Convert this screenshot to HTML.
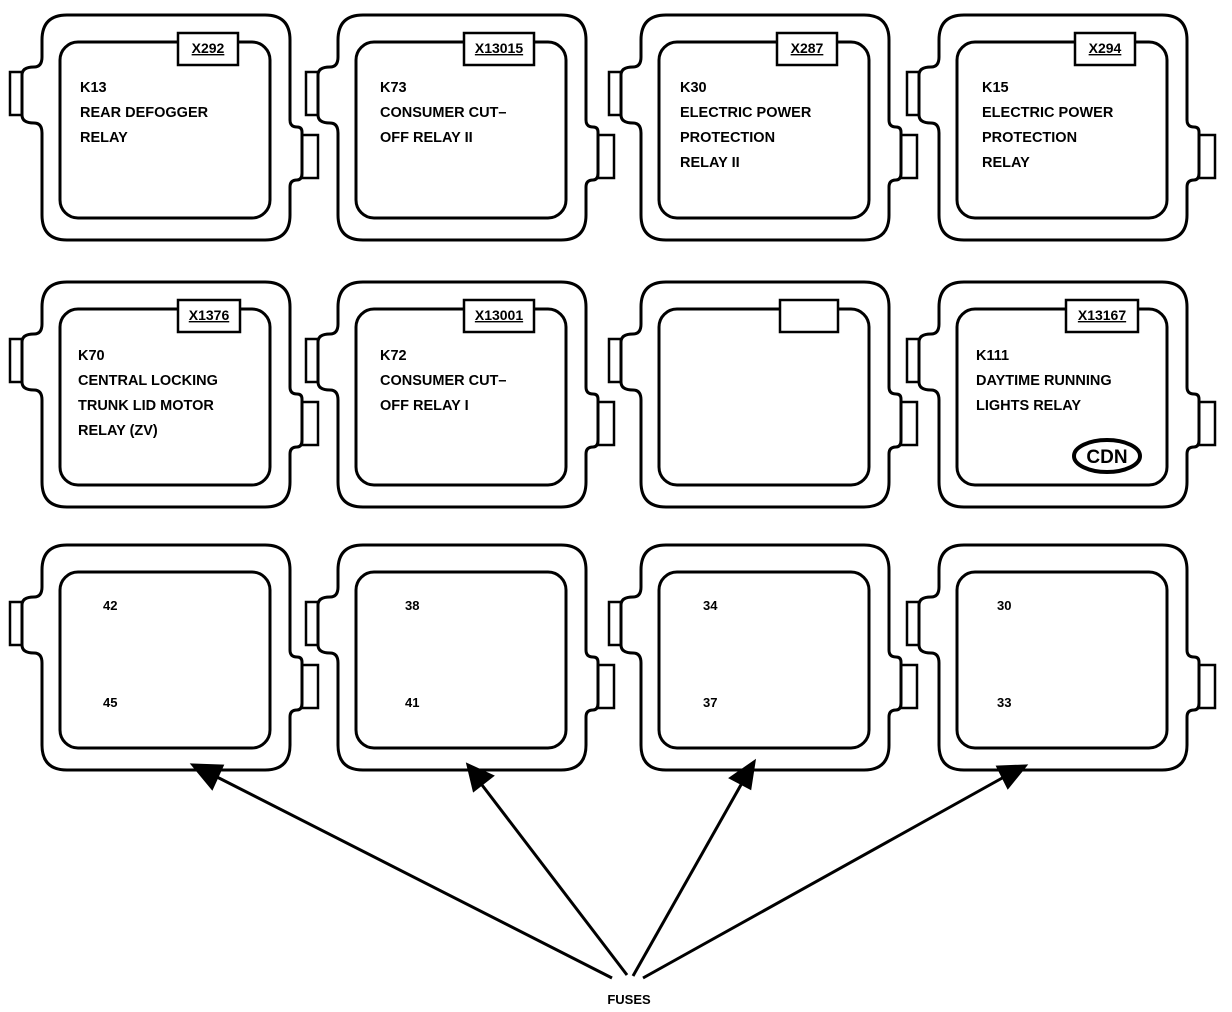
<!DOCTYPE html>
<html><head><meta charset="utf-8"><style>
html,body{margin:0;padding:0;background:#fff;}
svg{display:block;}
text{font-family:"Liberation Sans",Arial,sans-serif;fill:#000;}
.t{font-size:14.5px;font-weight:bold;}
.l{font-size:14px;text-decoration:underline;font-weight:bold;}
.n{font-size:13px;font-weight:bold;}
</style></head><body>
<svg width="1232" height="1012" viewBox="0 0 1232 1012" xmlns="http://www.w3.org/2000/svg">
<defs>
<g id="box" fill="none" stroke="#000" stroke-width="3">
<path d="M25,0 H223 Q248,0 248,25 V105 Q248,112 255,112 Q260,112 260,117 V158 Q260,165 255,165 Q248,165 248,172 V200 Q248,225 223,225 H25 Q0,225 0,200 V118 Q0,108 -8,108 Q-20,108 -20,100 V60 Q-20,52 -8,52 Q0,52 0,42 V25 Q0,0 25,0Z" fill="#fff"/>
<rect x="-32" y="57" width="12" height="43" stroke-width="2.5"/>
<rect x="260" y="120" width="16" height="43" stroke-width="2.5"/>
<rect x="18" y="27" width="210" height="176" rx="18"/>
</g>
</defs>

<use href="#box" x="42" y="15"/>
<use href="#box" x="338" y="15"/>
<use href="#box" x="641" y="15"/>
<use href="#box" x="939" y="15"/>
<use href="#box" x="42" y="282"/>
<use href="#box" x="338" y="282"/>
<use href="#box" x="641" y="282"/>
<use href="#box" x="939" y="282"/>
<use href="#box" x="42" y="545"/>
<use href="#box" x="338" y="545"/>
<use href="#box" x="641" y="545"/>
<use href="#box" x="939" y="545"/>

<g fill="#fff" stroke="#000" stroke-width="2.5">
<rect x="178" y="33" width="60" height="32"/>
<rect x="464" y="33" width="70" height="32"/>
<rect x="777" y="33" width="60" height="32"/>
<rect x="1075" y="33" width="60" height="32"/>
<rect x="178" y="300" width="62" height="32"/>
<rect x="464" y="300" width="70" height="32"/>
<rect x="780" y="300" width="58" height="32"/>
<rect x="1066" y="300" width="72" height="32"/>
</g>
<text class="l" x="208" y="53" text-anchor="middle">X292</text>
<text class="l" x="499" y="53" text-anchor="middle">X13015</text>
<text class="l" x="807" y="53" text-anchor="middle">X287</text>
<text class="l" x="1105" y="53" text-anchor="middle">X294</text>
<text class="l" x="209" y="320" text-anchor="middle">X1376</text>
<text class="l" x="499" y="320" text-anchor="middle">X13001</text>
<text class="l" x="1102" y="320" text-anchor="middle">X13167</text>

<text class="t" x="80" y="92">K13</text>
<text class="t" x="80" y="117">REAR DEFOGGER</text>
<text class="t" x="80" y="142">RELAY</text>
<text class="t" x="380" y="92">K73</text>
<text class="t" x="380" y="117">CONSUMER CUT–</text>
<text class="t" x="380" y="142">OFF RELAY II</text>
<text class="t" x="680" y="92">K30</text>
<text class="t" x="680" y="117">ELECTRIC POWER</text>
<text class="t" x="680" y="142">PROTECTION</text>
<text class="t" x="680" y="167">RELAY II</text>
<text class="t" x="982" y="92">K15</text>
<text class="t" x="982" y="117">ELECTRIC POWER</text>
<text class="t" x="982" y="142">PROTECTION</text>
<text class="t" x="982" y="167">RELAY</text>
<text class="t" x="78" y="360">K70</text>
<text class="t" x="78" y="385">CENTRAL LOCKING</text>
<text class="t" x="78" y="410">TRUNK LID MOTOR</text>
<text class="t" x="78" y="435">RELAY (ZV)</text>
<text class="t" x="380" y="360">K72</text>
<text class="t" x="380" y="385">CONSUMER CUT–</text>
<text class="t" x="380" y="410">OFF RELAY I</text>
<text class="t" x="976" y="360">K111</text>
<text class="t" x="976" y="385">DAYTIME RUNNING</text>
<text class="t" x="976" y="410">LIGHTS RELAY</text>
<ellipse cx="1107" cy="456" rx="33" ry="16" fill="none" stroke="#000" stroke-width="4"/>
<text x="1107" y="463" text-anchor="middle" style="font-size:19px;font-weight:bold">CDN</text>

<text class="n" x="103" y="610">42</text>
<text class="n" x="103" y="707">45</text>
<text class="n" x="405" y="610">38</text>
<text class="n" x="405" y="707">41</text>
<text class="n" x="703" y="610">34</text>
<text class="n" x="703" y="707">37</text>
<text class="n" x="997" y="610">30</text>
<text class="n" x="997" y="707">33</text>

<g stroke="#000" stroke-width="3" fill="#000">
<line x1="612" y1="978" x2="215" y2="776"/>
<polygon points="193,765 222,766 212,788"/>
<line x1="627" y1="975" x2="482" y2="785"/>
<polygon points="468,765 492,776 474,790"/>
<line x1="633" y1="976" x2="742" y2="783"/>
<polygon points="754,762 750,788 731,778"/>
<line x1="643" y1="978" x2="1004" y2="777"/>
<polygon points="1025,766 1008,787 998,767"/>
</g>
<text x="629" y="1004" text-anchor="middle" style="font-size:13px;font-weight:bold">FUSES</text>
</svg>
</body></html>
